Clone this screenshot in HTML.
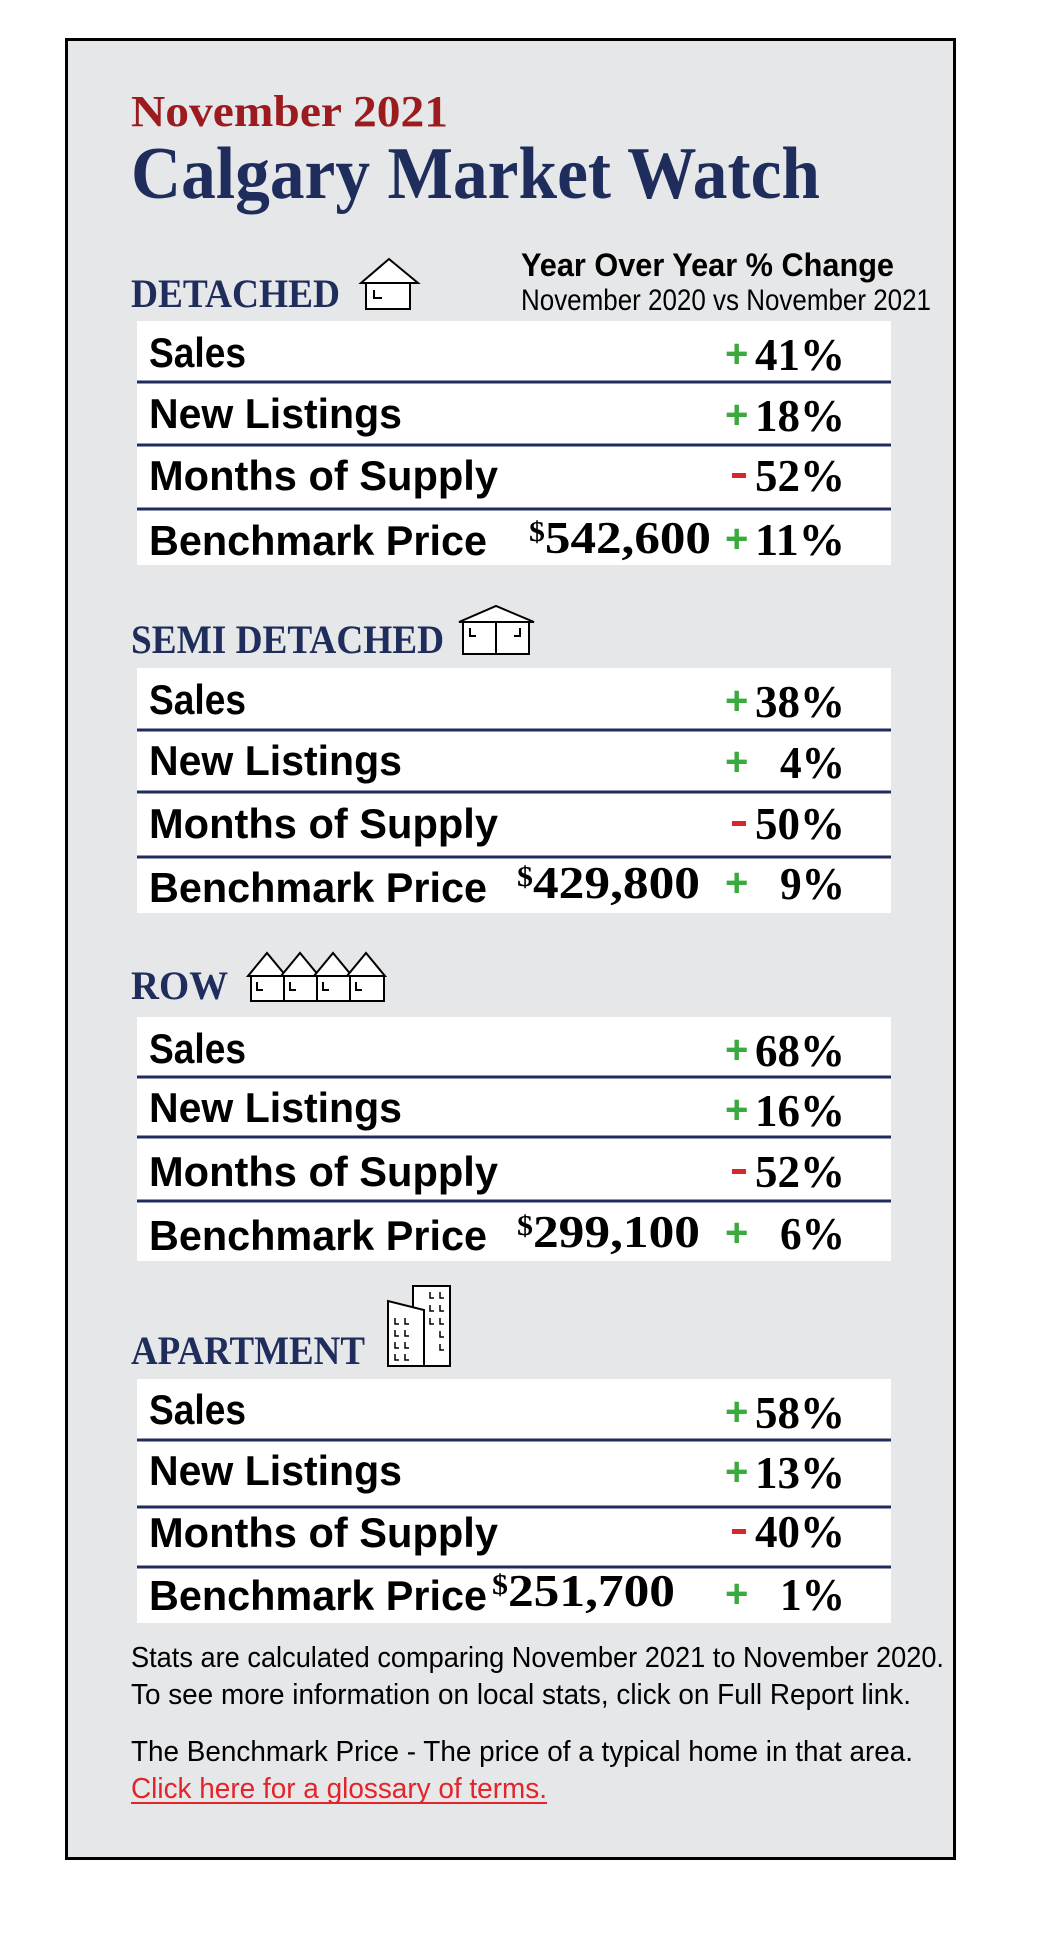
<!DOCTYPE html>
<html><head><meta charset="utf-8"><style>
html,body{margin:0;padding:0;background:#fff;}
svg{display:block}
.t{font-family:"Liberation Serif",serif;font-weight:bold}
.s{font-family:"Liberation Sans",sans-serif}
.lab{font-family:"Liberation Sans",sans-serif;font-weight:bold;font-size:42px;fill:#000}
.val{font-family:"Liberation Serif",serif;font-weight:bold;font-size:45px;fill:#000}
.pl{font-family:"Liberation Sans",sans-serif;font-weight:bold;font-size:40px;fill:#3aaa3e}
.hd{font-family:"Liberation Serif",serif;font-weight:bold;font-size:40px;fill:#1f2d5c}
</style></head><body>
<svg width="1050" height="1950" viewBox="0 0 1050 1950" xmlns="http://www.w3.org/2000/svg">
<rect x="0" y="0" width="1050" height="1950" fill="#fff"/>
<rect x="66.5" y="39.5" width="888" height="1819" fill="#e6e7e9" stroke="#000" stroke-width="3"/>

<text x="131" y="126" class="t" font-size="44" fill="#9b1b1f" textLength="317" lengthAdjust="spacingAndGlyphs">November 2021</text>
<text x="131" y="198" class="t" font-size="74" fill="#1f2d5c" textLength="689" lengthAdjust="spacingAndGlyphs">Calgary Market Watch</text>
<text x="521" y="276" class="s" font-weight="bold" font-size="32" fill="#000" textLength="373" lengthAdjust="spacingAndGlyphs">Year Over Year % Change</text>
<text x="521" y="310" class="s" font-size="30" fill="#000" textLength="410" lengthAdjust="spacingAndGlyphs">November 2020 vs November 2021</text>

<text x="131" y="307" class="hd" textLength="209" lengthAdjust="spacingAndGlyphs">DETACHED</text>
<text x="131" y="653" class="hd" textLength="313" lengthAdjust="spacingAndGlyphs">SEMI DETACHED</text>
<text x="131" y="999" class="hd" textLength="97" lengthAdjust="spacingAndGlyphs">ROW</text>
<text x="131" y="1364" class="hd" textLength="234" lengthAdjust="spacingAndGlyphs">APARTMENT</text>

<g fill="#fff" stroke="#000" stroke-width="2">
  <rect x="366" y="283" width="44" height="26"/>
  <polygon points="361,283 389,259 418,283"/>
  <path d="M374,290 v8 h8" fill="none"/>
  <rect x="463" y="622" width="66" height="32"/>
  <polygon points="459,622 496,606 534,622"/>
  <line x1="496" y1="622" x2="496" y2="654"/>
  <path d="M470,628 v8 h6 M520,628 v8 h-6" fill="none"/>
  <g>
    <rect x="251" y="976" width="34" height="25"/><polygon points="248,976 267,953 286,976"/><path d="M257,982 v8 h6" fill="none"/>
    <rect x="284" y="976" width="34" height="25"/><polygon points="281,976 300,953 319,976"/><path d="M290,982 v8 h6" fill="none"/>
    <rect x="317" y="976" width="34" height="25"/><polygon points="314,976 333,953 352,976"/><path d="M323,982 v8 h6" fill="none"/>
    <rect x="350" y="976" width="34" height="25"/><polygon points="347,976 366,953 385,976"/><path d="M356,982 v8 h6" fill="none"/>
  </g>
  <rect x="413" y="1286" width="37" height="80"/>
  <polygon points="388,1366 388,1301 424,1310 424,1366"/>
  <path d="M395,1318 v6 h4 M405,1318 v6 h4 M395,1330 v6 h4 M405,1330 v6 h4 M395,1342 v6 h4 M405,1342 v6 h4 M395,1354 v6 h4 M405,1354 v6 h4 M430,1292 v6 h4 M440,1292 v6 h4 M430,1305 v6 h4 M440,1305 v6 h4 M430,1318 v6 h4 M440,1318 v6 h4 M440,1331 v6 h4 M440,1344 v6 h4" fill="none" stroke-width="1.5"/>
</g>

<g fill="#fff">
<rect x="137" y="321" width="754" height="244"/>
<rect x="137" y="668" width="754" height="245"/>
<rect x="137" y="1017" width="754" height="244"/>
<rect x="137" y="1379" width="754" height="244"/>
</g>
<g stroke="#1f2d5c" stroke-width="3">
<line x1="137" x2="891" y1="382" y2="382"/><line x1="137" x2="891" y1="445" y2="445"/><line x1="137" x2="891" y1="509" y2="509"/>
<line x1="137" x2="891" y1="730" y2="730"/><line x1="137" x2="891" y1="792" y2="792"/><line x1="137" x2="891" y1="857" y2="857"/>
<line x1="137" x2="891" y1="1077" y2="1077"/><line x1="137" x2="891" y1="1137" y2="1137"/><line x1="137" x2="891" y1="1201" y2="1201"/>
<line x1="137" x2="891" y1="1440" y2="1440"/><line x1="137" x2="891" y1="1507" y2="1507"/><line x1="137" x2="891" y1="1567" y2="1567"/>
</g>

<!-- DETACHED -->
<text x="149" y="367" class="lab" textLength="97" lengthAdjust="spacingAndGlyphs">Sales</text>
<text x="149" y="428" class="lab" textLength="253" lengthAdjust="spacingAndGlyphs">New Listings</text>
<text x="149" y="490" class="lab" textLength="349" lengthAdjust="spacingAndGlyphs">Months of Supply</text>
<text x="149" y="555" class="lab" textLength="338" lengthAdjust="spacingAndGlyphs">Benchmark Price</text>
<text x="529" y="553" class="val" textLength="182" lengthAdjust="spacingAndGlyphs"><tspan font-size="28" dy="-12">$</tspan><tspan dy="12">542,600</tspan></text>
<text x="725" y="367" class="pl">+</text><text x="755" y="370" class="val" textLength="90" lengthAdjust="spacingAndGlyphs">41%</text>
<text x="725" y="428" class="pl">+</text><text x="755" y="431" class="val" textLength="90" lengthAdjust="spacingAndGlyphs">18%</text>
<rect x="732" y="473" width="14" height="5" fill="#d7272e"/><text x="755" y="491" class="val" textLength="90" lengthAdjust="spacingAndGlyphs">52%</text>
<text x="725" y="552" class="pl">+</text><text x="755" y="555" class="val" textLength="90" lengthAdjust="spacingAndGlyphs">11%</text>

<!-- SEMI -->
<text x="149" y="714" class="lab" textLength="97" lengthAdjust="spacingAndGlyphs">Sales</text>
<text x="149" y="775" class="lab" textLength="253" lengthAdjust="spacingAndGlyphs">New Listings</text>
<text x="149" y="838" class="lab" textLength="349" lengthAdjust="spacingAndGlyphs">Months of Supply</text>
<text x="149" y="902" class="lab" textLength="338" lengthAdjust="spacingAndGlyphs">Benchmark Price</text>
<text x="517" y="898" class="val" textLength="183" lengthAdjust="spacingAndGlyphs"><tspan font-size="28" dy="-12">$</tspan><tspan dy="12">429,800</tspan></text>
<text x="725" y="714" class="pl">+</text><text x="755" y="717" class="val" textLength="90" lengthAdjust="spacingAndGlyphs">38%</text>
<text x="725" y="775" class="pl">+</text><text x="780" y="778" class="val" textLength="65" lengthAdjust="spacingAndGlyphs">4%</text>
<rect x="732" y="821" width="14" height="5" fill="#d7272e"/><text x="755" y="839" class="val" textLength="90" lengthAdjust="spacingAndGlyphs">50%</text>
<text x="725" y="896" class="pl">+</text><text x="780" y="899" class="val" textLength="65" lengthAdjust="spacingAndGlyphs">9%</text>

<!-- ROW -->
<text x="149" y="1063" class="lab" textLength="97" lengthAdjust="spacingAndGlyphs">Sales</text>
<text x="149" y="1122" class="lab" textLength="253" lengthAdjust="spacingAndGlyphs">New Listings</text>
<text x="149" y="1186" class="lab" textLength="349" lengthAdjust="spacingAndGlyphs">Months of Supply</text>
<text x="149" y="1250" class="lab" textLength="338" lengthAdjust="spacingAndGlyphs">Benchmark Price</text>
<text x="517" y="1247" class="val" textLength="183" lengthAdjust="spacingAndGlyphs"><tspan font-size="28" dy="-12">$</tspan><tspan dy="12">299,100</tspan></text>
<text x="725" y="1063" class="pl">+</text><text x="755" y="1066" class="val" textLength="90" lengthAdjust="spacingAndGlyphs">68%</text>
<text x="725" y="1123" class="pl">+</text><text x="755" y="1126" class="val" textLength="90" lengthAdjust="spacingAndGlyphs">16%</text>
<rect x="732" y="1169" width="14" height="5" fill="#d7272e"/><text x="755" y="1187" class="val" textLength="90" lengthAdjust="spacingAndGlyphs">52%</text>
<text x="725" y="1246" class="pl">+</text><text x="780" y="1249" class="val" textLength="65" lengthAdjust="spacingAndGlyphs">6%</text>

<!-- APARTMENT -->
<text x="149" y="1424" class="lab" textLength="97" lengthAdjust="spacingAndGlyphs">Sales</text>
<text x="149" y="1485" class="lab" textLength="253" lengthAdjust="spacingAndGlyphs">New Listings</text>
<text x="149" y="1547" class="lab" textLength="349" lengthAdjust="spacingAndGlyphs">Months of Supply</text>
<text x="149" y="1610" class="lab" textLength="338" lengthAdjust="spacingAndGlyphs">Benchmark Price</text>
<text x="492" y="1606" class="val" textLength="183" lengthAdjust="spacingAndGlyphs"><tspan font-size="28" dy="-12">$</tspan><tspan dy="12">251,700</tspan></text>
<text x="725" y="1425" class="pl">+</text><text x="755" y="1428" class="val" textLength="90" lengthAdjust="spacingAndGlyphs">58%</text>
<text x="725" y="1485" class="pl">+</text><text x="755" y="1488" class="val" textLength="90" lengthAdjust="spacingAndGlyphs">13%</text>
<rect x="732" y="1529" width="14" height="5" fill="#d7272e"/><text x="755" y="1547" class="val" textLength="90" lengthAdjust="spacingAndGlyphs">40%</text>
<text x="725" y="1607" class="pl">+</text><text x="780" y="1610" class="val" textLength="65" lengthAdjust="spacingAndGlyphs">1%</text>

<text x="131" y="1667" class="s" font-size="29" fill="#000" textLength="813" lengthAdjust="spacingAndGlyphs">Stats are calculated comparing November 2021 to November 2020.</text>
<text x="131" y="1704" class="s" font-size="29" fill="#000" textLength="780" lengthAdjust="spacingAndGlyphs">To see more information on local stats, click on Full Report link.</text>
<text x="131" y="1761" class="s" font-size="29" fill="#000" textLength="782" lengthAdjust="spacingAndGlyphs">The Benchmark Price - The price of a typical home in that area.</text>
<text x="131" y="1798" class="s" font-size="29" fill="#e3242b" textLength="416" lengthAdjust="spacingAndGlyphs">Click here for a glossary of terms.</text>
<line x1="131" x2="547" y1="1803" y2="1803" stroke="#e3242b" stroke-width="2"/>
</svg>
</body></html>
